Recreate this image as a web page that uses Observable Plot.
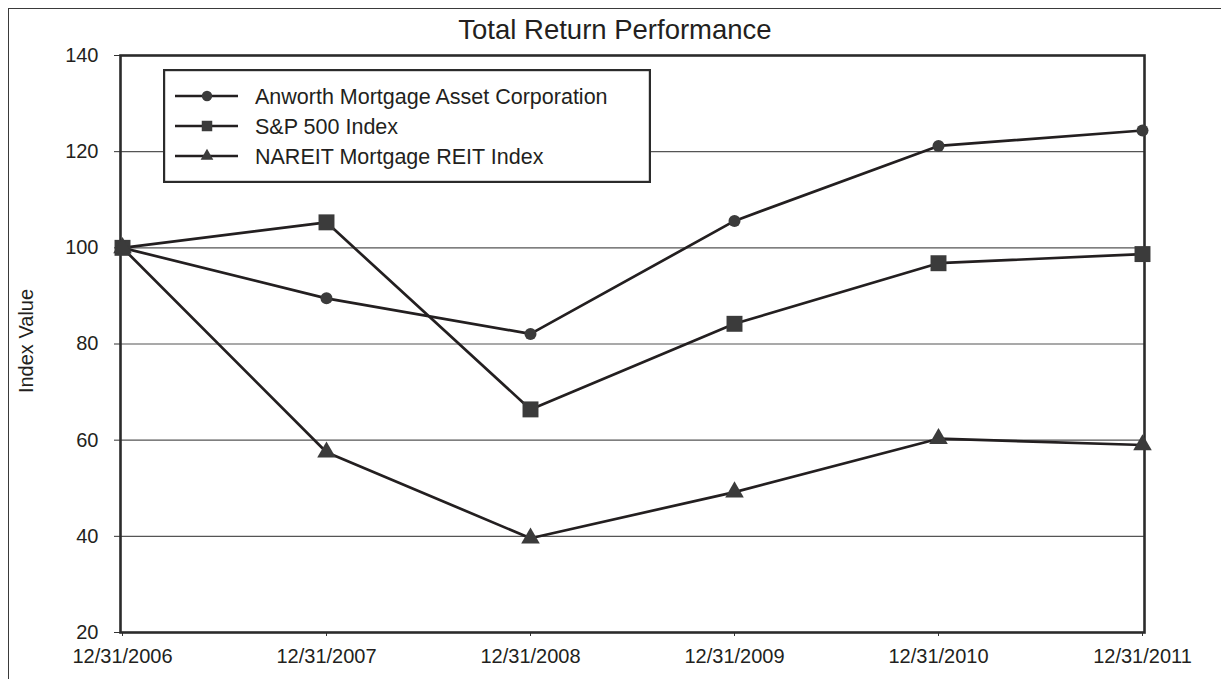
<!DOCTYPE html>
<html>
<head>
<meta charset="utf-8">
<script src="https://cdn.jsdelivr.net/npm/d3@7"></script>
<script src="https://cdn.jsdelivr.net/npm/@observablehq/plot@0.6"></script>
<style>
  html, body { margin: 0; padding: 0; background: #fff; }
  body { width: 1221px; height: 679px; overflow: hidden; font-family: "Liberation Sans", Arial, sans-serif; }
  #wrap { position: relative; width: 1221px; height: 679px; }
  #wrap > svg { position: absolute; left: 0; top: 0; }
  #border { position: absolute; left: 8px; top: 8px; width: 1213px; height: 671px; border-top: 1.5px solid #3a3a3a; border-left: 1.5px solid #3a3a3a; box-sizing: border-box; pointer-events: none; }
</style>
</head>
<body>
<div id="wrap">
  <div id="border"></div>
</div>
<script>
const dates = ["12/31/2006", "12/31/2007", "12/31/2008", "12/31/2009", "12/31/2010", "12/31/2011"];
const seriesNames = ["Anworth Mortgage Asset Corporation", "S&P 500 Index", "NAREIT Mortgage REIT Index"];
const anworth = [100, 89.5, 82.1, 105.6, 121.2, 124.4];
const sp500 = [100, 105.3, 66.4, 84.2, 96.8, 98.7];
const nareit = [100, 57.5, 39.6, 49.2, 60.3, 59.0];
const yTicks = [20, 40, 60, 80, 100, 120, 140];
const gridTicks = [40, 60, 80, 100, 120];
const symbols = ["circle", "square", "triangle"];
const symbolR = [6, 9, 6.9];
const titleText = "Total Return Performance";
const yLabel = "Index Value";

const valueArrays = [anworth, sp500, nareit];
const rows = [];
seriesNames.forEach((s, i) => {
  dates.forEach((d, j) => rows.push({series: s, date: d, value: valueArrays[i][j]}));
});

const ink = "#231f20";
const markFill = "#3b3b3b";
const font = "'Liberation Sans', Arial, sans-serif";

const marks = [
  Plot.gridY(gridTicks, {stroke: "#555", strokeOpacity: 1, strokeWidth: 1.2}),
  Plot.axisY(yTicks, {tickSize: 6, tickPadding: 16, fontSize: 20, label: null, stroke: "#333"}),
  Plot.axisX({tickSize: 4, tickPadding: 12, fontSize: 20, label: null, stroke: "#333"}),
  Plot.text([yLabel], {frameAnchor: "left", textAnchor: "middle", rotate: -90, dx: -94, dy: -3, fontSize: 20, fill: ink}),
  Plot.frame({stroke: "#2b2b2b", strokeWidth: 2.6}),
  Plot.line(rows, {x: "date", y: "value", z: "series", stroke: ink, strokeWidth: 2.7})
];
seriesNames.forEach((s, i) => {
  marks.push(Plot.dot(rows.filter(r => r.series === s), {
    x: "date", y: "value", symbol: () => symbols[i], r: symbolR[i], fill: markFill, stroke: "none"
  }));
});

const chart = Plot.plot({
  width: 1221,
  height: 679,
  marginLeft: 120,
  marginRight: 77,
  marginTop: 55,
  marginBottom: 47,
  style: {fontFamily: font, color: ink, background: "transparent"},
  x: {type: "point", domain: dates, padding: 0},
  y: {domain: [20, 140]},
  symbol: {type: "identity"},
  marks
});
document.getElementById("wrap").prepend(chart);

// Title
const overlay = d3.select("#wrap").append("svg").attr("width", 1221).attr("height", 60)
  .style("pointer-events", "none");
overlay.append("text").attr("x", 615).attr("y", 39).attr("text-anchor", "middle")
  .attr("font-size", 27.5).attr("font-family", font).attr("fill", ink).text(titleText);

// Legend
const lx = 163, ly = 69, lw = 488, lh = 114;
const leg = d3.select("#wrap").append("svg").attr("width", lw).attr("height", lh)
  .style("left", lx + "px").style("top", ly + "px");
leg.append("rect").attr("x", 1.1).attr("y", 1.1).attr("width", lw - 2.2).attr("height", lh - 2.2)
  .attr("fill", "#fff").attr("stroke", "#2b2b2b").attr("stroke-width", 2.2);
const legSyms = [d3.symbolCircle, d3.symbolSquare, d3.symbolTriangle];
const legSizes = [Math.PI * 27, 110, 70];
seriesNames.forEach((s, i) => {
  const cy = 27 + i * 30;
  leg.append("line").attr("x1", 12).attr("x2", 75).attr("y1", cy).attr("y2", cy)
    .attr("stroke", ink).attr("stroke-width", 2.6);
  leg.append("path").attr("d", d3.symbol(legSyms[i], legSizes[i])())
    .attr("transform", `translate(44,${cy})`).attr("fill", markFill);
  leg.append("text").attr("x", 92).attr("y", cy).attr("dy", "0.35em")
    .attr("font-size", 21.5).attr("fill", ink).attr("font-family", font).text(s);
});
</script>
</body>
</html>
